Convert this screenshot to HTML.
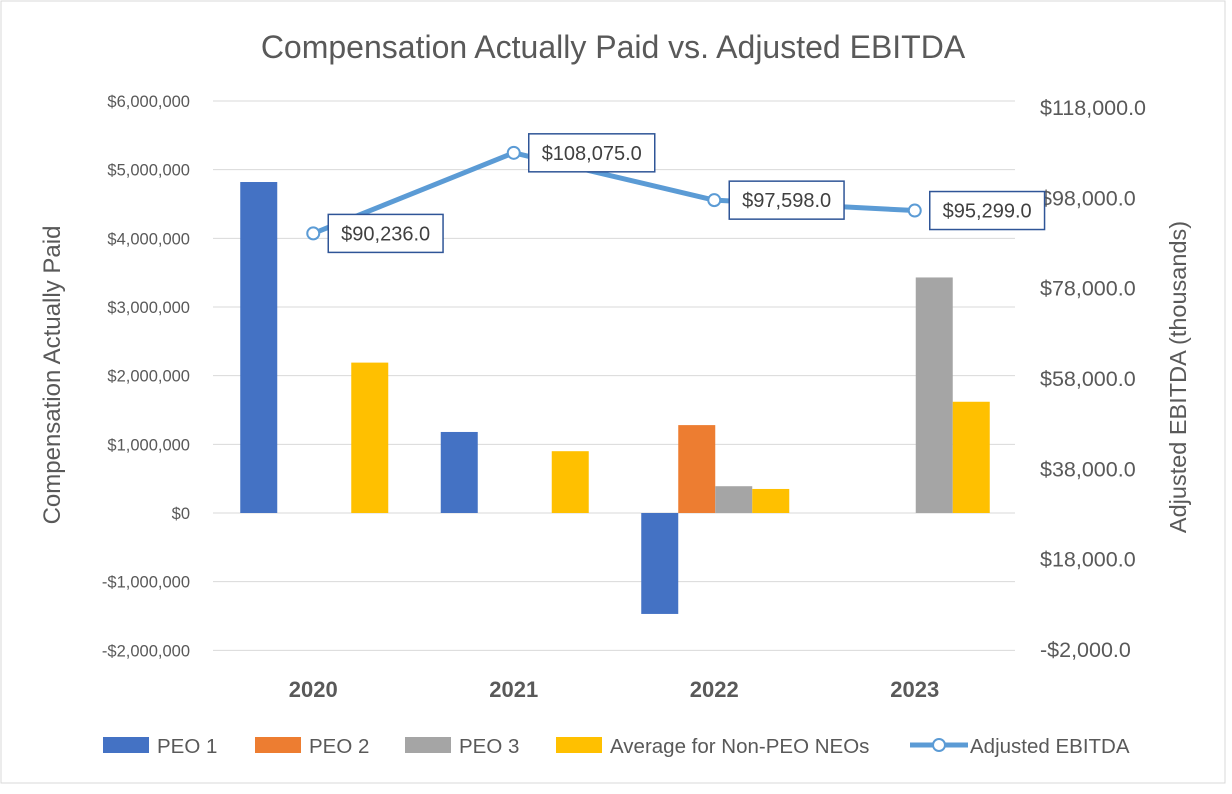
<!DOCTYPE html>
<html><head><meta charset="utf-8"><style>
body{margin:0;background:#fff;}
svg{display:block;font-family:"Liberation Sans",sans-serif;}
</style></head><body>
<svg id="c" width="1232" height="794">
<rect x="1" y="1" width="1224" height="782" fill="#fff" stroke="#d9d9d9"/>
<text x="613" y="58" text-anchor="middle" font-size="32" fill="#595959">Compensation Actually Paid vs. Adjusted EBITDA</text>
<text transform="translate(60,375) rotate(-90)" text-anchor="middle" font-size="24" fill="#595959">Compensation Actually Paid</text>
<text transform="translate(1186,377) rotate(-90)" text-anchor="middle" font-size="23.5" fill="#595959">Adjusted EBITDA (thousands)</text>
<g id="g"></g>
</svg>
<script>
const categories=["2020","2021","2022","2023"];
const peo1=[4820000,1180000,-1470000,null];
const peo2=[null,null,1280000,null];
const peo3=[null,null,390000,3430000];
const avgNeo=[2190000,900000,350000,1620000];
const ebitda=[90236,108075,97598,95299];
const leftTicks=[6000000,5000000,4000000,3000000,2000000,1000000,0,-1000000,-2000000];
const rightTicks=[118000,98000,78000,58000,38000,18000,-2000];
const NS="http://www.w3.org/2000/svg";
const g=document.getElementById('g');
function el(t,a,txt){const e=document.createElementNS(NS,t);for(const k in a)e.setAttribute(k,a[k]);if(txt!=null)e.textContent=txt;g.appendChild(e);return e;}
const L=213,R=1015;
const yL=v=>513-(v/1000000)*68.67;
const yR=v=>650-((v+2000)/120000)*542;
const cw=(R-L)/categories.length;
const xc=i=>L+cw*(i+0.5);
function money(v){const s=Math.abs(v).toLocaleString('en-US');return (v<0?'-':'')+'$'+s;}
leftTicks.forEach(v=>{
 const gl=el('line',{x1:L,x2:R,y1:yL(v),y2:yL(v),stroke:'#d9d9d9','stroke-width':1});
 
 
 const t=el('text',{x:190,y:yL(v)+6,'text-anchor':'end','font-size':16.5,fill:'#595959'},money(v));
 
 
});
rightTicks.forEach(v=>{
 const t=el('text',{x:1040,y:yR(v)+7,'font-size':21.5,fill:'#595959'},(v<0?'-':'')+'$'+Math.abs(v).toLocaleString('en-US')+'.0');
 
 
});
const series=[[peo1,'#4472C4','peo1'],[peo2,'#ED7D31','peo2'],[peo3,'#A5A5A5','peo3'],[avgNeo,'#FFC000','avg-neo']];
const bw=37;
categories.forEach((c,i)=>{
 series.forEach((s,j)=>{
  const v=s[0][i]; if(v==null)return;
  const x=xc(i)-2*bw+j*bw+1;
  const y0=yL(0),y1=yL(v);
  const r=el('rect',{x:x,y:Math.min(y0,y1),width:bw,height:Math.abs(y1-y0),fill:s[1]});
  
  
 });
 const t=el('text',{x:xc(i),y:697,'text-anchor':'middle','font-size':22,'font-weight':'bold',fill:'#595959'},c);
 
 
});
const pts=ebitda.map((v,i)=>[xc(i),yR(v)]);
const pl=el('polyline',{points:pts.map(p=>p.join(',')).join(' '),fill:'none',stroke:'#5B9BD5','stroke-width':5,'stroke-linejoin':'round'});


pts.forEach((p,i)=>{
 const m=el('circle',{cx:p[0],cy:p[1],r:6,fill:'#fff',stroke:'#5B9BD5','stroke-width':2});
 
 
 const txt='$'+ebitda[i].toLocaleString('en-US')+'.0';
 const w=txt.length*11.2+14;
 const bx=p[0]+15,by=p[1]-19;
 const rr=el('rect',{x:bx,y:by,width:w,height:38,fill:'#fff',stroke:'#2F5597','stroke-width':1.5});
 
 
 const tt=el('text',{x:bx+w/2,y:by+26,'text-anchor':'middle','font-size':20,fill:'#404040'},txt);
 
 
});
const legend=[['PEO 1','#4472C4',103],['PEO 2','#ED7D31',255],['PEO 3','#A5A5A5',405],['Average for Non-PEO NEOs','#FFC000',556]];
legend.forEach(l=>{
 const r=el('rect',{x:l[2],y:737,width:46,height:16,fill:l[1]});
 
 
 const t=el('text',{x:l[2]+54,y:753,'font-size':20.5,fill:'#595959'},l[0]);
 
 
});
const ll=el('line',{x1:910,x2:968,y1:745,y2:745,stroke:'#5B9BD5','stroke-width':5});


const lc=el('circle',{cx:939,cy:745,r:6,fill:'#fff',stroke:'#5B9BD5','stroke-width':2});


const lt=el('text',{x:970,y:753,'font-size':20.5,fill:'#595959'},'Adjusted EBITDA');


</script>
</body></html>
